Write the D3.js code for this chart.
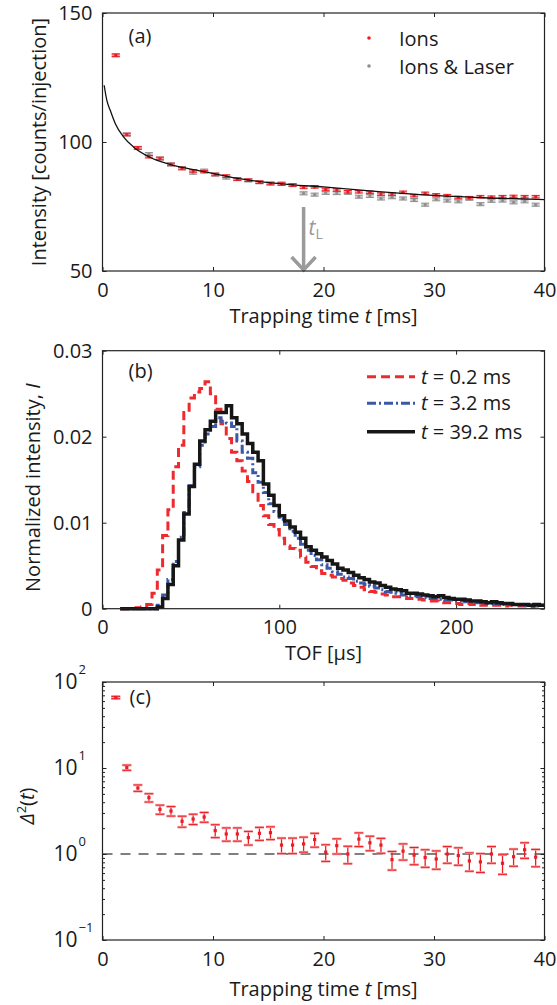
<!DOCTYPE html>
<html>
<head>
<meta charset="utf-8">
<script src="https://cdn.jsdelivr.net/npm/d3@7/dist/d3.min.js"></script>
<style>
  body { margin: 0; background: #fff; }
  svg text { font-family: "Open Sans", Lato, sans-serif; fill: #1a1a1a; }
</style>
</head>
<body>
<div id="chart"></div>
<script>
// ---------- data ----------
// trapping times of the measurement points [ms]
var trapT = [1.2, 2.2, 3.2, 4.2, 5.2, 6.2, 7.2, 8.2, 9.2, 10.2, 11.2, 12.2, 13.2,
  14.2, 15.2, 16.2, 17.2, 18.2, 19.2, 20.2, 21.2, 22.2, 23.2, 24.2, 25.2, 26.2,
  27.2, 28.2, 29.2, 30.2, 31.2, 32.2, 33.2, 34.2, 35.2, 36.2, 37.2, 38.2, 39.2];

// (a) intensity, counts/injection
var ionsVal = [133.6, 102.9, 97.7, 94.3, 93.6, 91.3, 89.7, 88.8, 88.5, 87.4, 86.8, 85.6, 85.2,
  84.4, 83.9, 83.7, 83.3, 82.4, 82.6, 81.6, 81.4, 80.7, 80.7, 80.5, 79.8, 79.8,
  80.5, 79.2, 80.1, 79.5, 79.2, 78.5, 78.4, 78.8, 78.6, 78.8, 78.9, 78.8, 78.8];
var laserVal = [133.6, 102.9, 97.7, 95.3, 93.6, 91.3, 89.9, 88.1, 88.9, 87.4, 86.2, 85.6, 85.1,
  84.4, 83.9, 83.9, 83.3, 80.1, 79.6, 80.3, 80.2, 80.3, 78.8, 79.1, 78.1, 78.6,
  78.1, 77.5, 75.7, 77.8, 77.3, 77.0, 78.0, 75.9, 77.2, 77.3, 76.6, 77.0, 75.7];
var ionsErr = 0.5;
var laserErr = 0.6;
var laserOnT = 18.2;

// (a) fitted curve
var fitT = [0.15, 0.4, 0.7, 1.15, 1.9, 2.8, 4.2, 6.1, 9.2, 12.2, 17, 20, 25, 30, 35, 40];
var fitV = [122, 116, 112.3, 107.2, 102, 98.1, 94.3, 91.3, 88.5, 85.9, 83.5, 82.6, 80.8, 79.3, 78.3, 77.7];

// (b) TOF histograms, bin starts [us] (bin width 3 us)
var tofBins = [10, 13, 16, 19, 22, 25, 28, 31, 34, 37, 40, 43, 46, 49, 52, 55, 58, 61, 64, 67,
  70, 73, 76, 79, 82, 85, 88, 91, 94, 97, 100, 103, 106, 109, 112, 115, 118, 121, 124, 127,
  130, 133, 136, 139, 142, 145, 148, 151, 154, 157, 160, 163, 166, 169, 172, 175, 178, 181, 184, 187,
  190, 193, 196, 199, 202, 205, 208, 211, 214, 217, 220, 223, 226, 229, 232, 235, 238, 241, 244, 247];
var tofBinWidth = 3;
var hist02 = [0, 0, 0, 0.0001, 0.0002, 0.0005, 0.0018, 0.0045, 0.0085, 0.0115, 0.0165, 0.019, 0.0228, 0.0245, 0.0252, 0.0256, 0.0264, 0.025, 0.0232, 0.0215,
  0.0198, 0.0182, 0.0172, 0.016, 0.0148, 0.0136, 0.012, 0.0108, 0.0098, 0.0092, 0.0082, 0.0073, 0.007, 0.0068, 0.006, 0.0054, 0.0049, 0.0044, 0.0041, 0.0039,
  0.0037, 0.0035, 0.0033, 0.003, 0.0027, 0.0025, 0.0022, 0.002, 0.0019, 0.0017, 0.0016, 0.0014, 0.0014, 0.0013, 0.0012, 0.0012, 0.0011, 0.001, 0.0009, 0.0009,
  0.0008, 0.0007, 0.0007, 0.0006, 0.0005, 0.0006, 0.0005, 0.0005, 0.0004, 0.0005, 0.0004, 0.0004, 0.0003, 0.0004, 0.0003, 0.0003, 0.0003, 0.0002, 0.0003, 0.0003];
var hist32 = [0, 0, 0, 0, 0, 0, 0, 0.0004, 0.0016, 0.0034, 0.0055, 0.0083, 0.0112, 0.0143, 0.0165, 0.019, 0.0203, 0.0212, 0.0222, 0.0218,
  0.0216, 0.0212, 0.0195, 0.0182, 0.0175, 0.0158, 0.0147, 0.0135, 0.0122, 0.0113, 0.0104, 0.0098, 0.009, 0.0082, 0.0075, 0.0068, 0.0062, 0.0057, 0.0051, 0.0047,
  0.0043, 0.004, 0.0037, 0.0035, 0.0032, 0.003, 0.0028, 0.0026, 0.0024, 0.0022, 0.002, 0.0019, 0.0018, 0.0016, 0.0015, 0.0015, 0.0014, 0.0013, 0.0012, 0.0012,
  0.0011, 0.001, 0.001, 0.0009, 0.0009, 0.0008, 0.0008, 0.0007, 0.0007, 0.0006, 0.0006, 0.0006, 0.0005, 0.0005, 0.0005, 0.0004, 0.0004, 0.0004, 0.0004, 0.0004];
var hist392 = [0, 0, 0, 0, 0, 0, 0, 0.0002, 0.0012, 0.0028, 0.005, 0.008, 0.011, 0.0142, 0.0168, 0.0195, 0.0208, 0.0218, 0.0228, 0.0228,
  0.0236, 0.0222, 0.0215, 0.0203, 0.0192, 0.0182, 0.0172, 0.0145, 0.0132, 0.012, 0.0108, 0.0102, 0.0095, 0.0089, 0.0082, 0.0072, 0.0068, 0.0064, 0.006, 0.0056,
  0.0052, 0.0047, 0.0045, 0.0042, 0.0039, 0.0036, 0.0034, 0.0031, 0.003, 0.0027, 0.0025, 0.0023, 0.0022, 0.0021, 0.0018, 0.0018, 0.0017, 0.0016, 0.0015, 0.0014,
  0.0015, 0.0013, 0.0012, 0.0011, 0.0011, 0.001, 0.0009, 0.0009, 0.0008, 0.0007, 0.0008, 0.0007, 0.0006, 0.0006, 0.0005, 0.0005, 0.0005, 0.0004, 0.0005, 0.0004];
var histLabels = ["0.2", "3.2", "39.2"];

// (c) Delta^2(t) with errors
var deltaVal = [66, 10.1, 5.85, 4.52, 3.30, 3.16, 2.40, 2.55, 2.69, 1.87, 1.71, 1.71, 1.55,
  1.74, 1.77, 1.27, 1.27, 1.31, 1.47, 1.05, 1.25, 1.0, 1.49, 1.35, 1.27, 0.86,
  1.08, 0.97, 0.91, 0.875, 1.0, 0.96, 0.83, 0.81, 1.0, 0.78, 0.93, 1.12, 0.92];
var deltaErr = [2, 0.7, 0.5, 0.5, 0.4, 0.4, 0.35, 0.35, 0.35, 0.32, 0.3, 0.3, 0.28,
  0.3, 0.3, 0.26, 0.26, 0.26, 0.27, 0.23, 0.25, 0.23, 0.27, 0.26, 0.25, 0.21,
  0.23, 0.22, 0.21, 0.21, 0.22, 0.22, 0.2, 0.2, 0.22, 0.2, 0.21, 0.23, 0.21];

// tick values
var trapTicks = [0, 10, 20, 30, 40];
var intensityTicks = [50, 100, 150];
var tofTicks = [0, 100, 200];
var normTicks = [0, 0.01, 0.02, 0.03];
var logTicks = [0.1, 1, 10, 100];

// ---------- layout ----------
var W = 557, H = 1005;
var L = 102.5, R = 544.5;
var fs = 20;
var red = "#ed1c24", redLight = "#f4a3a5", grey = "#8e8e8e", greyLight = "#cfcfcf";

var svg = d3.select("#chart").append("svg")
  .attr("width", W).attr("height", H);
svg.append("rect").attr("width", W).attr("height", H).attr("fill", "#fff");

// inward ticks on all four sides, MATLAB style
var box_axes = function(g, x, y, xt, yt, top, bottom, yfmt) {
  var inner = -4;
  g.append("g").attr("transform", "translate(0," + bottom + ")")
    .call(d3.axisBottom(x).tickValues(xt).tickSizeInner(inner).tickSizeOuter(0).tickPadding(11.5))
    .call(style_axis);
  g.append("g").attr("transform", "translate(0," + top + ")")
    .call(d3.axisTop(x).tickValues(xt).tickSizeInner(inner).tickSizeOuter(0).tickFormat(""))
    .call(style_axis);
  var la = d3.axisLeft(y).tickValues(yt).tickSizeInner(inner).tickSizeOuter(0).tickPadding(10);
  if (yfmt) la.tickFormat(yfmt);
  g.append("g").attr("class", "yleft").attr("transform", "translate(" + L + ",0)")
    .call(la).call(style_axis);
  g.append("g").attr("transform", "translate(" + R + ",0)")
    .call(d3.axisRight(y).tickValues(yt).tickSizeInner(inner).tickSizeOuter(0).tickFormat(""))
    .call(style_axis);
  g.append("rect")
    .attr("x", L).attr("y", top).attr("width", R - L).attr("height", bottom - top)
    .attr("fill", "none").attr("stroke", "#222").attr("stroke-width", 1.2);
};

var style_axis = function(sel) {
  sel.select(".domain").remove();
  sel.attr("font-size", fs).attr("font-family", null);
  sel.selectAll("line").attr("stroke", "#222");
  sel.selectAll("text").attr("fill", "#1a1a1a");
};

var trap_title = function(g, yb) {
  var t = g.append("text").attr("x", (L + R) / 2).attr("y", yb)
    .attr("text-anchor", "middle").attr("font-size", fs);
  t.append("tspan").text("Trapping time ");
  t.append("tspan").attr("font-style", "italic").text("t");
  t.append("tspan").text(" [ms]");
};

var panel_tag = function(g, x, y, s) {
  g.append("text").attr("x", x).attr("y", y).attr("font-size", fs).text(s);
};

// ---------- (a) ----------
var aTop = 13, aBot = 271;
var xa = d3.scaleLinear().domain([0, 40]).range([L, R]);
var ya = d3.scaleLinear().domain([50, 150]).range([aBot, aTop]);
var ga = svg.append("g");

var draw_err_a = function(g, vals, err, fill, stroke) {
  trapT.forEach(function(t, i) {
    var cx = xa(t), v = vals[i];
    g.append("rect").attr("x", cx - 4).attr("y", ya(v + err))
      .attr("width", 8).attr("height", ya(v - err) - ya(v + err)).attr("fill", fill);
    g.append("line").attr("x1", cx - 4).attr("x2", cx + 4)
      .attr("y1", ya(v + err)).attr("y2", ya(v + err)).attr("stroke", stroke).attr("stroke-width", 1);
    g.append("line").attr("x1", cx - 4).attr("x2", cx + 4)
      .attr("y1", ya(v - err)).attr("y2", ya(v - err)).attr("stroke", stroke).attr("stroke-width", 1);
    g.append("circle").attr("cx", cx).attr("cy", ya(v)).attr("r", 1.6).attr("fill", stroke);
  });
};
draw_err_a(ga, laserVal, laserErr, greyLight, grey);
draw_err_a(ga, ionsVal, ionsErr, redLight, red);

ga.append("path")
  .datum(fitT.map(function(t, i) { return [t, fitV[i]]; }))
  .attr("fill", "none").attr("stroke", "#111").attr("stroke-width", 1.3)
  .attr("d", d3.line().x(function(d) { return xa(d[0]); }).y(function(d) { return ya(d[1]); })
    .curve(d3.curveMonotoneX));

// laser switch-on arrow
var ax = xa(laserOnT);
ga.append("line").attr("x1", ax).attr("x2", ax).attr("y1", 207).attr("y2", aBot - 1)
  .attr("stroke", "#9a9a9a").attr("stroke-width", 3.5);
ga.append("polyline")
  .attr("points", (ax - 12) + ",257 " + ax + "," + (aBot - 1) + " " + (ax + 12) + ",257")
  .attr("fill", "none").attr("stroke", "#9a9a9a").attr("stroke-width", 3.5);
var tl = ga.append("text").attr("x", ax + 5).attr("y", 235).attr("font-size", 21)
  .style("fill", "#9a9a9a");
tl.append("tspan").attr("font-style", "italic").text("t");
tl.append("tspan").attr("font-size", 14).attr("dy", 4).text("L");

box_axes(ga, xa, ya, trapTicks, intensityTicks, aTop, aBot);
trap_title(ga, 323);
panel_tag(ga, 128.5, 43, "(a)");

ga.append("text").attr("transform", "translate(46," + ((aTop + aBot) / 2) + ") rotate(-90)")
  .attr("text-anchor", "middle").attr("font-size", fs).text("Intensity [counts/injection]");

// legend (a)
ga.append("circle").attr("cx", 369).attr("cy", 38).attr("r", 1.8).attr("fill", red);
ga.append("text").attr("x", 399).attr("y", 46).attr("font-size", fs).text("Ions");
ga.append("circle").attr("cx", 369).attr("cy", 66).attr("r", 1.8).attr("fill", grey);
ga.append("text").attr("x", 399).attr("y", 74).attr("font-size", fs).text("Ions & Laser");

// ---------- (b) ----------
var bTop = 350.7, bBot = 608.7;
var xb = d3.scaleLinear().domain([0, 250]).range([L, R]);
var yb = d3.scaleLinear().domain([0, 0.03]).range([bBot, bTop]);
var gb = svg.append("g");

var histStyles = [
  { data: hist02, color: "#ee2a2e", dash: "9,5", w: 3 },
  { data: hist32, color: "#3b57a7", dash: "9,3,2,3", w: 3 },
  { data: hist392, color: "#161616", dash: null, w: 3.5 }
];

var stepLine = d3.line()
  .x(function(d) { return xb(d[0]); }).y(function(d) { return yb(d[1]); })
  .curve(d3.curveStepAfter);

histStyles.forEach(function(s) {
  var pts = tofBins.map(function(b, i) { return [b, s.data[i]]; });
  pts.push([tofBins[tofBins.length - 1] + tofBinWidth, s.data[s.data.length - 1]]);
  gb.append("path").datum(pts)
    .attr("fill", "none").attr("stroke", s.color).attr("stroke-width", s.w)
    .attr("stroke-dasharray", s.dash).attr("stroke-linejoin", "miter")
    .attr("d", stepLine);
});

box_axes(gb, xb, yb, tofTicks, normTicks, bTop, bBot, function(d) { return d === 0 ? "0" : d3.format(".2f")(d); });
gb.append("text").attr("x", (L + R) / 2).attr("y", 660).attr("text-anchor", "middle")
  .attr("font-size", fs).text("TOF [\u00b5s]");
panel_tag(gb, 128.5, 378, "(b)");

var ylb = gb.append("text").attr("transform", "translate(40," + ((bTop + bBot) / 2 + 8) + ") rotate(-90)")
  .attr("text-anchor", "middle").attr("font-size", fs);
ylb.append("tspan").text("Normalized intensity, ");
ylb.append("tspan").attr("font-style", "italic").text("I");

// legend (b)
var legY = [376.7, 403.3, 431.7];
histStyles.forEach(function(s, i) {
  gb.append("line").attr("x1", 367).attr("x2", 415).attr("y1", legY[i]).attr("y2", legY[i])
    .attr("stroke", s.color).attr("stroke-width", s.w).attr("stroke-dasharray", s.dash);
  var t = gb.append("text").attr("x", 421).attr("y", legY[i] + 7).attr("font-size", fs);
  t.append("tspan").attr("font-style", "italic").text("t");
  t.append("tspan").text(" = " + histLabels[i] + " ms");
});

// ---------- (c) ----------
var cTop = 682, cBot = 940;
var xc = d3.scaleLinear().domain([0, 40]).range([L, R]);
var yc = d3.scaleLog().domain([0.1, 100]).range([cBot, cTop]);
var gc = svg.append("g");

// reference line at 1
gc.append("line").attr("x1", L).attr("x2", R).attr("y1", yc(1)).attr("y2", yc(1))
  .attr("stroke", "#555").attr("stroke-width", 1.4).attr("stroke-dasharray", "10,8");

trapT.forEach(function(t, i) {
  var cx = xc(t), v = deltaVal[i], e = deltaErr[i];
  var y1 = yc(v + e), y0 = yc(v - e);
  gc.append("line").attr("x1", cx).attr("x2", cx).attr("y1", y1).attr("y2", y0)
    .attr("stroke", red).attr("stroke-width", 1.3);
  [y1, y0].forEach(function(yy) {
    gc.append("line").attr("x1", cx - 4.5).attr("x2", cx + 4.5).attr("y1", yy).attr("y2", yy)
      .attr("stroke", redLight).attr("stroke-width", 2.6);
    gc.append("line").attr("x1", cx - 4.5).attr("x2", cx + 4.5).attr("y1", yy).attr("y2", yy)
      .attr("stroke", red).attr("stroke-width", 1);
  });
  gc.append("rect").attr("x", cx - 1.6).attr("y", yc(v) - 1.6).attr("width", 3.2).attr("height", 3.2)
    .attr("fill", red);
});

// minor log ticks
var minorVals = [];
[0.1, 1, 10].forEach(function(dec) {
  for (var k = 2; k <= 9; k++) minorVals.push(k * dec);
});
gc.append("g").attr("transform", "translate(" + L + ",0)")
  .call(d3.axisLeft(yc).tickValues(minorVals).tickSizeInner(-2.5).tickSizeOuter(0).tickFormat(""))
  .call(style_axis);
gc.append("g").attr("transform", "translate(" + R + ",0)")
  .call(d3.axisRight(yc).tickValues(minorVals).tickSizeInner(-2.5).tickSizeOuter(0).tickFormat(""))
  .call(style_axis);

box_axes(gc, xc, yc, trapTicks, logTicks, cTop, cBot, function() { return "10"; });
// exponents on the decade labels
gc.select(".yleft").selectAll(".tick").each(function(d) {
  var tk = d3.select(this);
  tk.select("text").attr("x", -25).attr("font-size", 21);
  var ex = Math.round(Math.log10(d));
  tk.append("text").attr("x", -24).attr("y", -9).attr("font-size", 13)
    .attr("text-anchor", "start").attr("fill", "#1a1a1a")
    .text(ex < 0 ? "\u2212" + Math.abs(ex) : String(ex));
});

trap_title(gc, 996);
panel_tag(gc, 129.5, 704, "(c)");

var ylc = gc.append("text").attr("transform", "translate(34," + ((cTop + cBot) / 2 - 5) + ") rotate(-90)")
  .attr("text-anchor", "middle").attr("font-size", fs);
ylc.append("tspan").attr("font-style", "italic").text("\u0394");
ylc.append("tspan").attr("font-size", 13).attr("dy", -8).text("2");
ylc.append("tspan").attr("dy", 8).text("(");
ylc.append("tspan").attr("font-style", "italic").text("t");
ylc.append("tspan").text(")");
</script>
</body>
</html>
